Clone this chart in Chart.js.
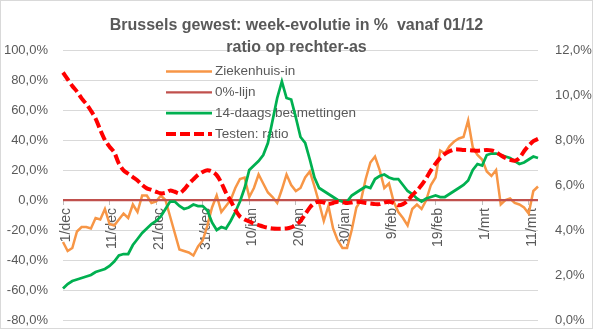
<!DOCTYPE html>
<html><head><meta charset="utf-8">
<script src="https://cdn.jsdelivr.net/npm/chart.js@4/dist/chart.umd.min.js"></script>
<style>html,body{margin:0;padding:0;background:#fff}#wrap{width:593px;height:329px;position:relative}</style>
</head><body><div id="wrap"><canvas id="c" width="593" height="329"></canvas></div>
<script>
// Categories: daily dates 1/dec .. 13/mrt
const monthDays = [['dec', 31], ['jan', 31], ['feb', 28], ['mrt', 13]];
const categories = [];
monthDays.forEach(([m, n]) => { for (let d = 1; d <= n; d++) categories.push(d + '/' + m); });
const tickLabels = ['1/dec', '11/dec', '21/dec', '31/dec', '10/jan', '20/jan', '30/jan', '9/feb', '19/feb', '1/mrt', '11/mrt'];

// Ziekenhuis-in (week-evolutie, %)
const ziekenhuisIn = [
  -28, -34, -32, -21, -18, -18, -19, -12, -13, -6,
  -16, -17, -13, -9, -12, -3, -8, 3, 3, -2,
  -1, 3, 0, -11, -22, -33, -34, -35, -37, -31,
  -27, -17, -5, 3, -8, -4, 0, 8, 14, 15,
  2, 8, 17, 11, 5, 2, -2, 7, 17, 10,
  6, 8, 15, 19, 9, -2, -14, -4, -19, -27,
  -32, -32, -20, -5, 0, 14, 25, 29, 20, 8,
  11, -1, -8, -12, -17, -6, -3, -6, 0, 10,
  15, 33, 31, 36, 39, 41, 42, 53, 35, 30,
  27, 19, 16, 20, -3, 0, 1, -2, -3, -5,
  -9, 6, 9
];
// 0%-lijn
const nulLijn = [
  0,0,0,0,0,0,0,0,0,0, 0,0,0,0,0,0,0,0,0,0, 0,0,0,0,0,0,0,0,0,0,
  0,0,0,0,0,0,0,0,0,0, 0,0,0,0,0,0,0,0,0,0, 0,0,0,0,0,0,0,0,0,0,
  0,0,0,0,0,0,0,0,0,0, 0,0,0,0,0,0,0,0,0,0, 0,0,0,0,0,0,0,0,0,0,
  0,0,0,0,0,0,0,0,0,0, 0,0,0
];
// 14-daags besmettingen (week-evolutie, %)
const besmettingen14 = [
  -59, -56, -54, -53, -52, -51, -50, -48, -47, -46,
  -44, -41, -37, -36, -36, -30, -26, -22, -19, -16,
  -14, -11, -6, -1, -1, -4, -6, -5, -3, -4,
  -4, -7, -15, -20, -18, -19, -14, -8, -1, 8,
  20, 23, 26, 30, 38, 53, 68, 79, 68, 67,
  55, 42, 38, 27, 15, 8, 6, 4, 2, 0,
  -1, -1, 3, 5, 7, 9, 8, 14, 16, 17,
  15, 14, 14, 10, 6, 4, 1, -1, 1, 2,
  3, 2, 2, 4, 6, 8, 10, 13, 20, 24,
  23, 30, 31, 31, 30, 29, 28, 26, 24, 25,
  27, 29, 28
];
// Testen: ratio (%, rechter-as)
const testenRatio = [
  11.0, 10.7, 10.4, 10.15, 9.85, 9.6, 9.3, 8.95, 8.45, 8.0,
  7.7, 7.45, 6.95, 6.65, 6.5, 6.35, 6.2, 6.0, 5.85, 5.78,
  5.7, 5.63, 5.65, 5.75, 5.7, 5.63, 5.8, 6.05, 6.25, 6.45,
  6.58, 6.66, 6.6, 6.44, 6.1, 5.65, 5.3, 4.9, 4.6, 4.47,
  4.38, 4.28, 4.22, 4.15, 4.1, 4.07, 4.06, 4.06, 4.07, 4.12,
  4.22, 4.4, 4.7, 5.0, 5.2, 5.26, 5.22, 5.15, 5.2, 5.26,
  5.24, 5.2, 5.22, 5.26, 5.24, 5.2, 5.18, 5.15, 5.15, 5.22,
  5.26, 5.2, 5.1, 5.15, 5.3, 5.55, 5.75, 6.0, 6.3, 6.65,
  6.95, 7.2, 7.38, 7.5, 7.58, 7.58, 7.56, 7.55, 7.53, 7.52,
  7.54, 7.56, 7.54, 7.46, 7.32, 7.2, 7.12, 7.08, 7.2, 7.5,
  7.75, 7.95, 8.05
];

const TEXT = '#595959';
const FONT = "'Liberation Sans', Arial, sans-serif";
Chart.defaults.font.family = FONT;
Chart.defaults.color = TEXT;

const pct = v => v.toFixed(1).replace('.', ',') + '%';

const titlePlugin = {
  id: 'excelTitle',
  afterDraw(chart) {
    const ctx = chart.ctx;
    ctx.save();
    ctx.fillStyle = TEXT;
    ctx.textAlign = 'center';
    ctx.textBaseline = 'alphabetic';
    ctx.font = 'bold 16px ' + FONT;
    ctx.fillText('Brussels gewest: week-evolutie in %  vanaf 01/12', 296.5, 30);
    ctx.fillText('ratio op rechter-as', 296.5, 52);
    ctx.restore();
  }
};

const legendPlugin = {
  id: 'inlineLegend',
  beforeDatasetsDraw(chart) {
    const ctx = chart.ctx;
    const ds = chart.data.datasets;
    ctx.save();
    ctx.font = '13.5px ' + FONT;
    ctx.textBaseline = 'middle';
    ctx.textAlign = 'left';
    ds.forEach((d, i) => {
      const y = 71.5 + i * 20.8;
      ctx.beginPath();
      ctx.strokeStyle = d.borderColor;
      ctx.lineWidth = d.borderWidth;
      ctx.setLineDash(d.borderDash || []);
      ctx.lineCap = 'butt';
      ctx.moveTo(166, y);
      ctx.lineTo(212, y);
      ctx.stroke();
      ctx.setLineDash([]);
      ctx.fillStyle = TEXT;
      ctx.fillText(d.label, 215, y);
    });
    ctx.restore();
  }
};

const framePlugin = {
  id: 'frame',
  beforeDraw(chart) {
    const ctx = chart.ctx;
    ctx.save();
    ctx.fillStyle = '#fff';
    ctx.fillRect(0, 0, chart.width, chart.height);
    ctx.restore();
  },
  afterDraw(chart) {
    const ctx = chart.ctx;
    ctx.save();
    ctx.strokeStyle = '#D9D9D9';
    ctx.lineWidth = 1;
    ctx.strokeRect(0.5, 0.5, chart.width - 1, chart.height - 1);
    ctx.restore();
  }
};

const zeroPad = s => { s.paddingLeft = 0; s.paddingRight = 0; s.paddingTop = 0; s.paddingBottom = 0; };

new Chart(document.getElementById('c'), {
  type: 'line',
  data: {
    labels: categories,
    datasets: [
      { label: 'Ziekenhuis-in', data: ziekenhuisIn, yAxisID: 'y', borderColor: '#F79646', borderWidth: 2.5, pointRadius: 0, tension: 0, fill: false, order: 4 },
      { label: '0%-lijn', data: nulLijn, yAxisID: 'y', borderColor: '#C0504D', borderWidth: 2.25, pointRadius: 0, tension: 0, fill: false, order: 3 },
      { label: '14-daags besmettingen', data: besmettingen14, yAxisID: 'y', borderColor: '#00B050', borderWidth: 2.75, pointRadius: 0, tension: 0, fill: false, order: 2 },
      { label: 'Testen: ratio', data: testenRatio, yAxisID: 'y2', borderColor: '#FF0000', borderWidth: 4, borderDash: [10, 4], borderCapStyle: 'butt', pointRadius: 0, tension: 0.3, fill: false, order: 1 }
    ]
  },
  options: {
    responsive: false,
    animation: false,
    devicePixelRatio: 1,
    layout: { padding: { top: 50, bottom: 9, left: 3, right: 0 } },
    plugins: { legend: { display: false }, title: { display: false }, tooltip: { enabled: false } },
    scales: {
      x: {
        type: 'category',
        offset: false,
        position: { y: 0 },
        border: { display: false },
        grid: {
          drawOnChartArea: false, drawTicks: true, tickLength: 5, lineWidth: 1,
          color: ctx => (ctx.index % 10 === 0 ? '#BFBFBF' : 'rgba(0,0,0,0)')
        },
        ticks: {
          autoSkip: false, minRotation: 90, maxRotation: 90, padding: 3, labelOffset: 3,
          color: TEXT, font: { size: 14 },
          callback: (v, i) => (tickLabels.includes(categories[i]) ? categories[i] : '')
        },
        afterFit: s => { s.height = 0; zeroPad(s); }
      },
      y: {
        position: 'left', min: -80, max: 100,
        border: { display: false },
        grid: { color: '#D9D9D9', drawTicks: false, lineWidth: 1 },
        ticks: { stepSize: 20, padding: 15, color: TEXT, font: { size: 13 }, callback: v => pct(v) },
        afterFit: s => { s.width = 60; zeroPad(s); }
      },
      y2: {
        position: 'right', min: 0, max: 12,
        border: { display: false },
        grid: { drawOnChartArea: false, drawTicks: false },
        ticks: { stepSize: 2, padding: 17, color: TEXT, font: { size: 13 }, callback: v => pct(v) },
        afterFit: s => { s.width = 55; zeroPad(s); }
      }
    }
  },
  plugins: [framePlugin, legendPlugin, titlePlugin]
});
</script></body></html>
